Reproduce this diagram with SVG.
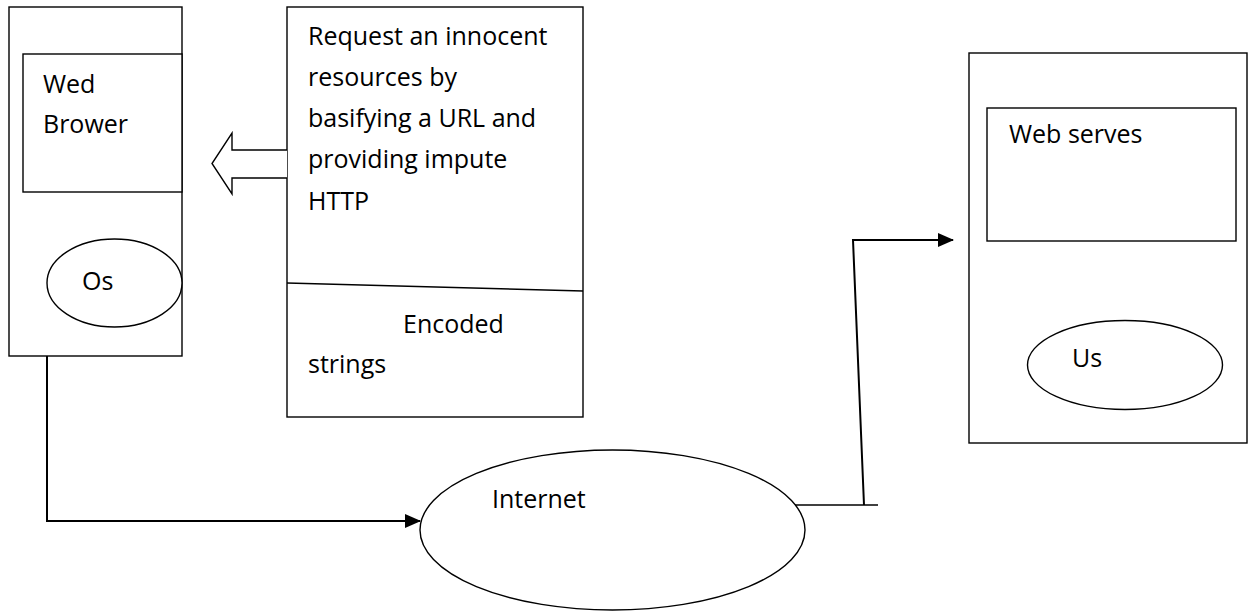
<svg xmlns="http://www.w3.org/2000/svg" width="1250" height="611" viewBox="0 0 1250 611">
<style>
.box{fill:#fff;stroke:#000;stroke-width:1.4}
.ln{fill:none;stroke:#000;stroke-width:1.4}
.con{fill:none;stroke:#000;stroke-width:2}
text{font-family:"Open Sans","Liberation Sans",sans-serif;font-size:25px;fill:#000}
</style>
<defs>
<marker id="ah" markerWidth="16" markerHeight="14" refX="15" refY="7" orient="auto" markerUnits="userSpaceOnUse">
<path d="M0,0 L16,7 L0,14 Z" fill="#000"/>
</marker>
</defs>
<rect width="1250" height="611" fill="#fff"/>
<g id="client">
<rect class="box" x="9" y="7" width="173" height="349"/>
<rect class="box" x="23" y="54" width="159" height="138"/>
<text x="43" y="93">Wed</text>
<text x="43" y="133">Brower</text>
<ellipse class="box" cx="114.5" cy="283" rx="67.5" ry="44"/>
<text x="82" y="290">Os</text>
</g>
<g id="request">
<rect class="box" x="287" y="7" width="296" height="410"/>
<line class="ln" x1="287" y1="283" x2="583" y2="291"/>
<text x="308" y="45">Request an innocent</text>
<text x="308" y="86">resources by</text>
<text x="308" y="127">basifying a URL and</text>
<text x="308" y="168">providing impute</text>
<text x="308" y="210">HTTP</text>
<text x="403" y="333">Encoded</text>
<text x="308" y="373">strings</text>
</g>
<g id="block-arrow">
<path class="box" d="M287,150 L232,150 L232,133 L212,163.5 L232,194 L232,178 L287,178"/>
</g>
<g id="server">
<rect class="box" x="969" y="53" width="278" height="390"/>
<rect class="box" x="987" y="108" width="249" height="133"/>
<text x="1009" y="143">Web serves</text>
<ellipse class="box" cx="1125" cy="365" rx="97.5" ry="44.5"/>
<text x="1072" y="367">Us</text>
</g>
<g id="internet">
<ellipse class="box" cx="612.5" cy="530" rx="192.5" ry="80"/>
<text x="492" y="508">Internet</text>
</g>
<g id="connectors">
<path class="con" d="M47,356 L47,521 L420,521" marker-end="url(#ah)"/>
<path class="ln" d="M795,505 L878,505"/>
<path class="con" d="M864,505 L853,240 L953,240" marker-end="url(#ah)"/>
</g>
</svg>
